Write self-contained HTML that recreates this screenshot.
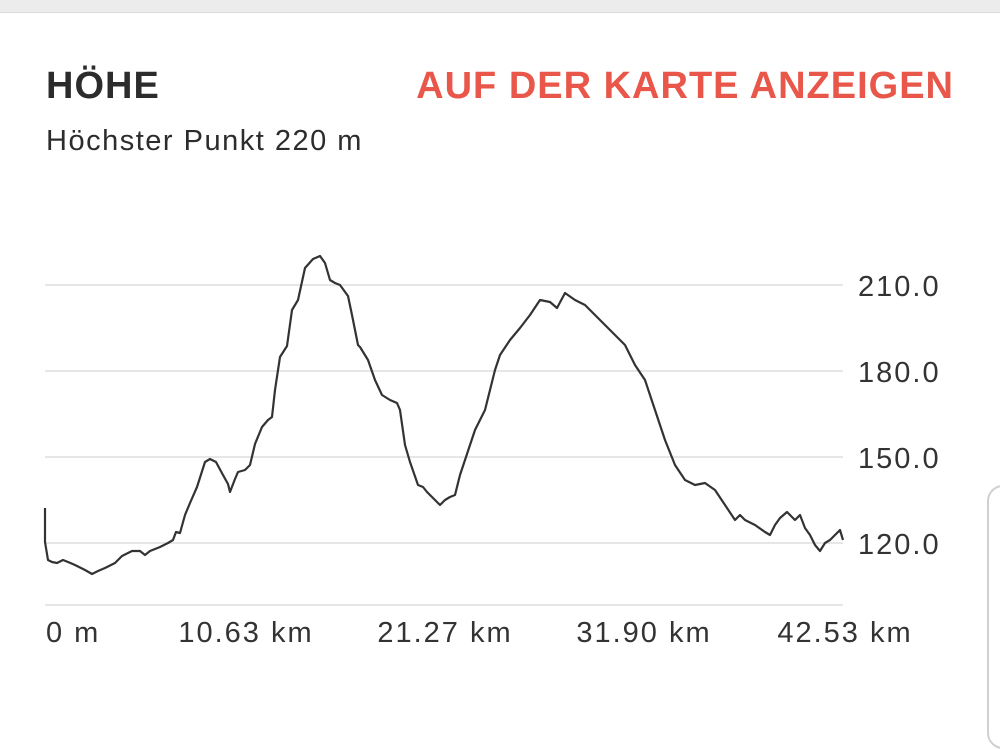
<!DOCTYPE html>
<html><head><meta charset="utf-8"><style>
body{margin:0;width:1000px;height:686px;background:#fff;overflow:hidden;position:relative;font-family:"Liberation Sans",sans-serif}
.top{position:absolute;left:0;top:0;width:1000px;height:12px;background:#ececec;border-bottom:1px solid #dcdcdc}
.side{position:absolute;left:987px;top:485px;width:40px;height:260px;border:2px solid #d0d0d0;border-radius:16px}
</style></head><body>
<div class="top"></div>
<div class="side"></div>
<svg width="1000" height="686" style="position:absolute;left:0;top:0" font-family="Liberation Sans,sans-serif">
<text x="46" y="98" font-size="38" font-weight="bold" fill="#2c2c2c" letter-spacing="1">HÖHE</text>
<text x="954" y="98" font-size="38" font-weight="bold" fill="#e9574a" letter-spacing="1" text-anchor="end">AUF DER KARTE ANZEIGEN</text>
<text x="46" y="150" font-size="29" fill="#2c2c2c" letter-spacing="1.5">Höchster Punkt 220 m</text>
<g stroke="#e6e6e6" stroke-width="2">
<line x1="45" y1="285" x2="843" y2="285"/><line x1="45" y1="371" x2="843" y2="371"/>
<line x1="45" y1="457" x2="843" y2="457"/><line x1="45" y1="543" x2="843" y2="543"/>
<line x1="45" y1="605" x2="843" y2="605"/></g>
<g font-size="29" fill="#333" letter-spacing="2">
<text x="858" y="296">210.0</text><text x="858" y="382">180.0</text><text x="858" y="468">150.0</text><text x="858" y="554">120.0</text>
<text x="46" y="642">0 m</text><text x="246" y="642" text-anchor="middle">10.63 km</text><text x="445" y="642" text-anchor="middle">21.27 km</text><text x="644" y="642" text-anchor="middle">31.90 km</text><text x="845" y="642" text-anchor="middle">42.53 km</text></g>
<polyline fill="none" stroke="#333" stroke-width="2.2" stroke-linejoin="round" points="45,508 45,542 48,560 52,562 57,563 63,560 68,562 75,565 85,570 92,574 98,571 105,568 115,563 122,556 132,551 140,551 145,555 150,551 160,547 168,543 173,540 176,532 180,533 185,515 190,503 197,487 205,462 210,459 216,462 223,475 228,484 230,492 235,479 238,472 245,470 250,465 255,444 262,427 268,420 272,417 275,390 280,357 287,346 292,310 298,300 305,268 313,259 320,256 325,263 330,280 335,283 340,285 348,296 352,315 358,345 360,347 368,360 375,380 382,395 390,400 397,403 400,410 405,445 410,462 418,485 423,487 427,492 435,500 440,505 445,500 450,497 455,495 460,475 465,460 470,445 475,430 480,420 485,410 490,390 495,370 500,355 510,340 520,328 530,315 540,300 550,302 557,308 565,293 575,300 585,305 595,315 605,325 615,335 625,345 635,365 645,380 655,410 665,440 675,465 685,480 695,485 705,483 715,490 725,505 735,520 740,515 745,520 755,525 765,532 770,535 775,525 780,518 787,512 795,520 800,515 805,528 810,535 815,545 820,551 825,543 830,540 835,535 840,530 843,540"/>
</svg>
</body></html>
